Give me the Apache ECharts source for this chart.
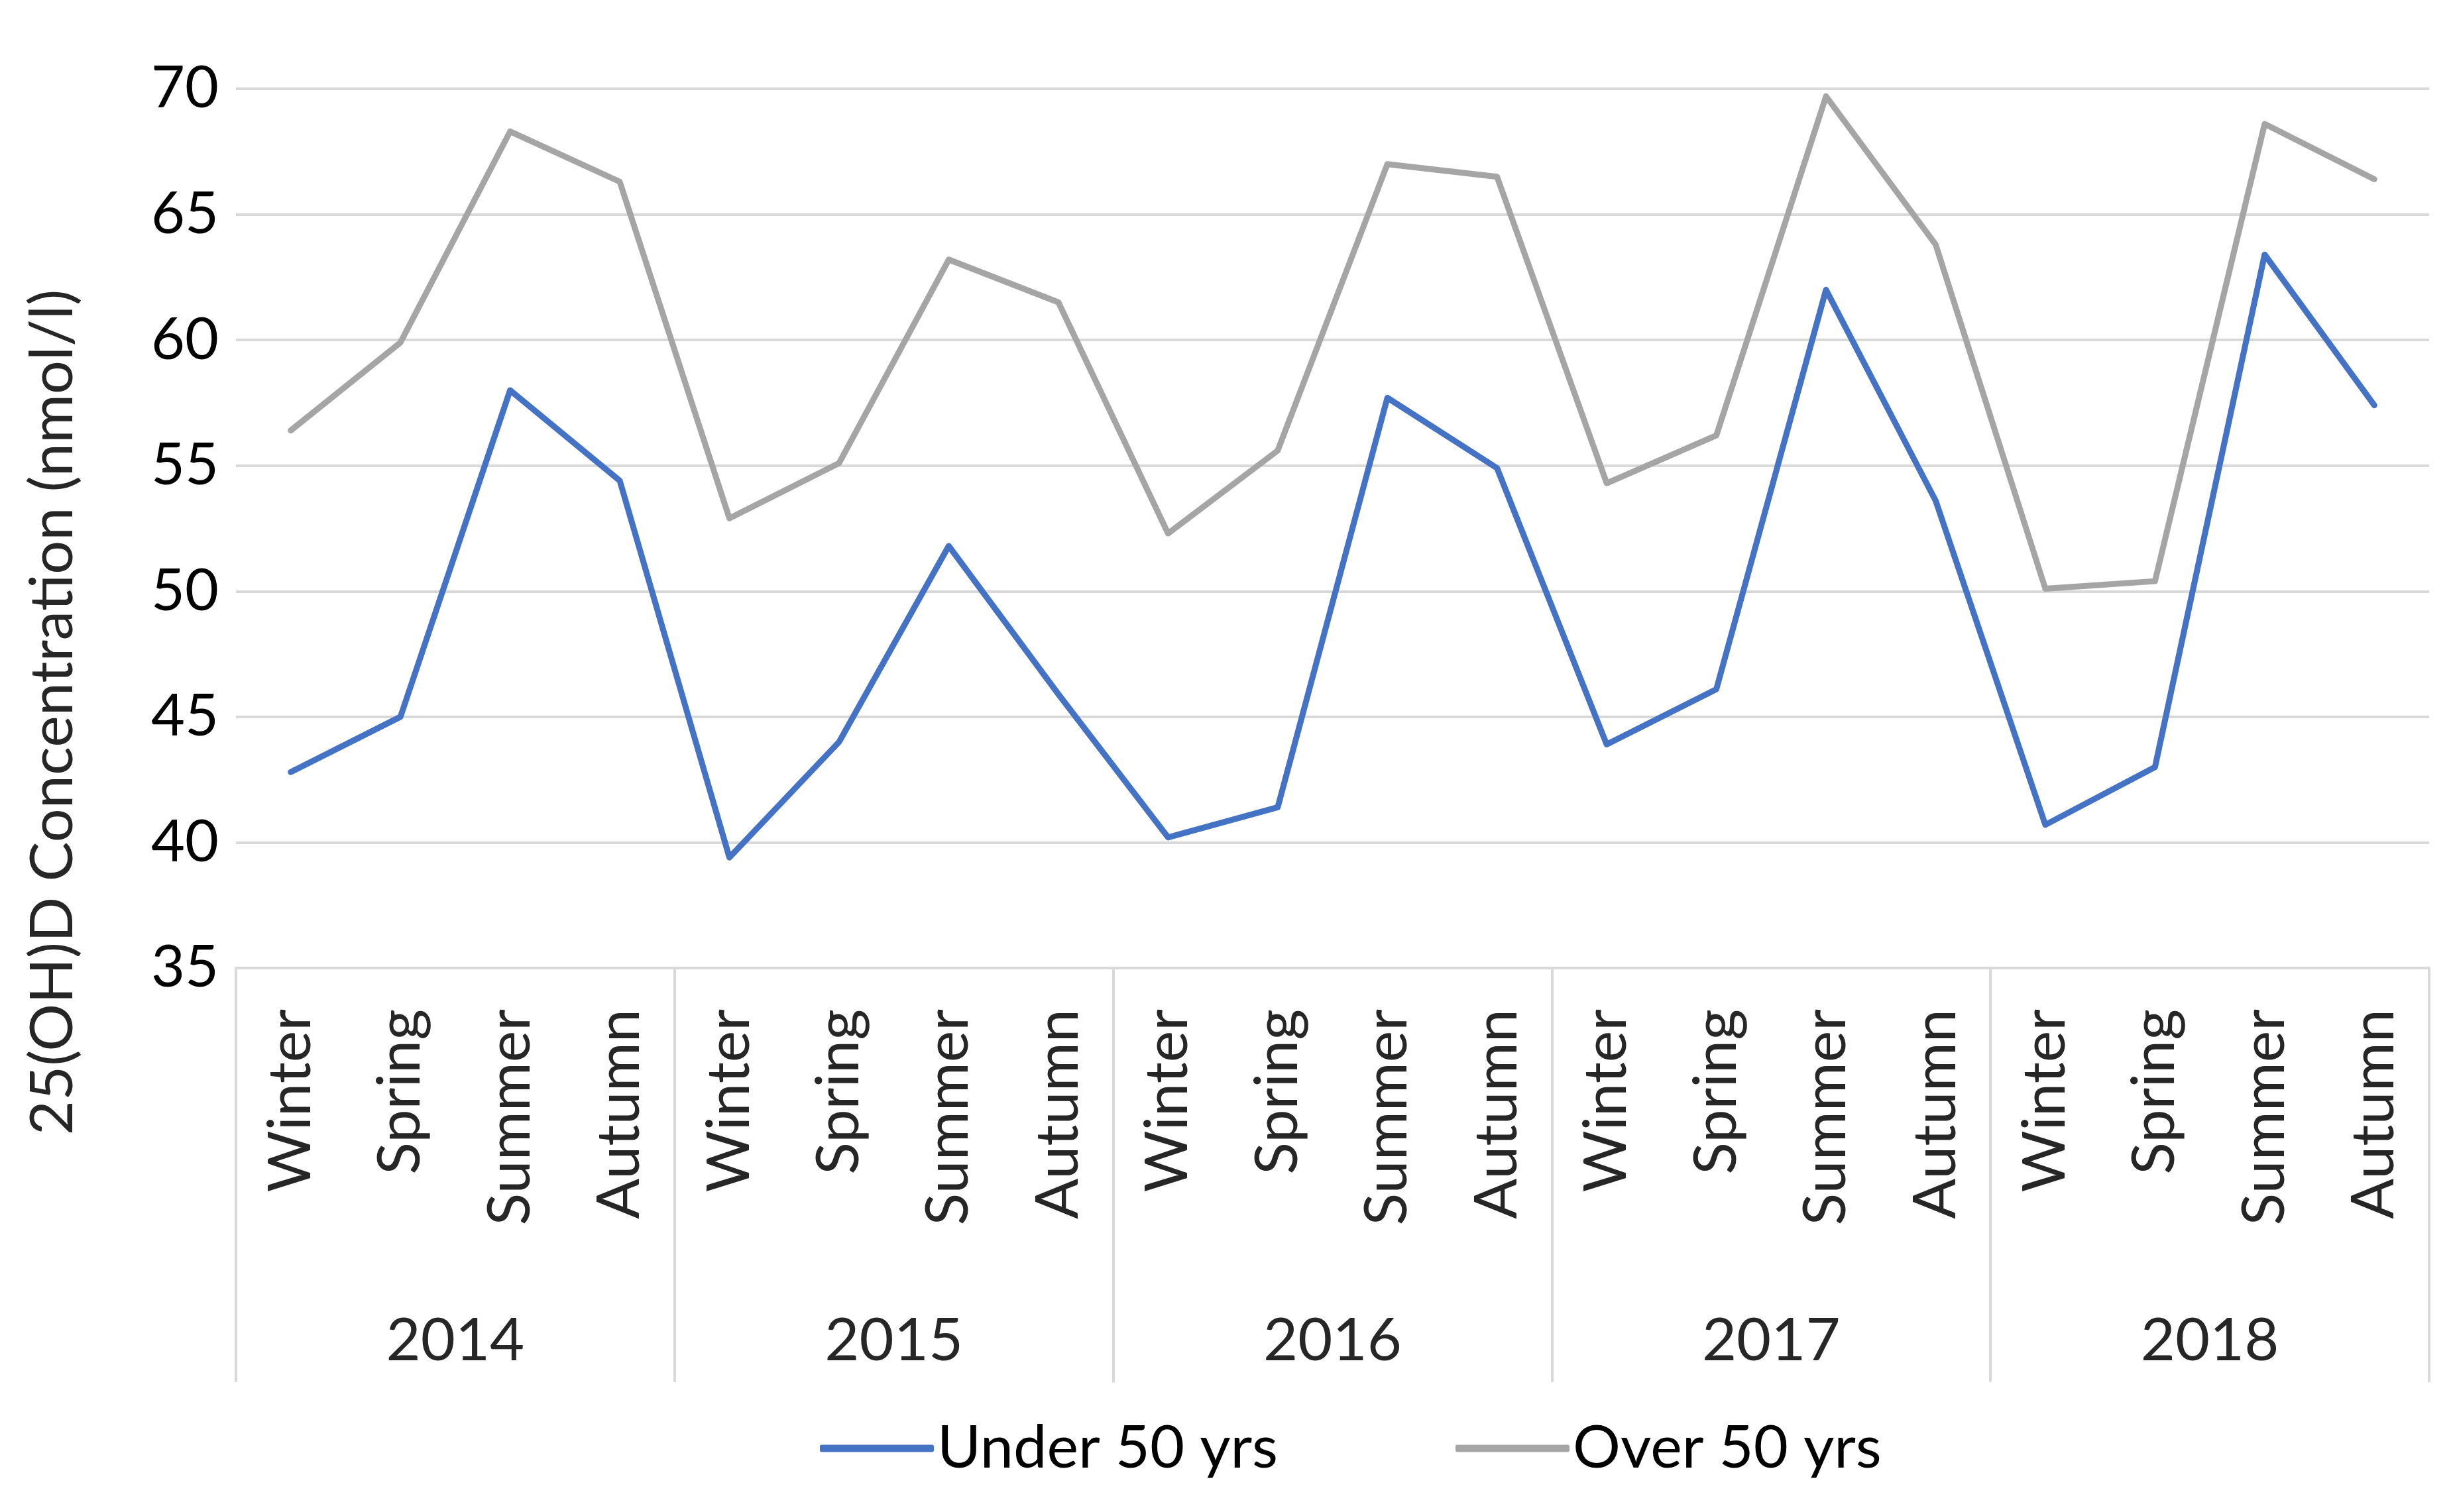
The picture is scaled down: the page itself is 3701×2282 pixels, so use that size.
<!DOCTYPE html>
<html>
<head>
<meta charset="utf-8">
<script src="https://cdn.jsdelivr.net/npm/echarts@6/dist/echarts.min.js"></script>
<style>
html,body{margin:0;padding:0;background:#fff;}
#chart{width:3701px;height:2282px;}
</style>
</head>
<body>
<div id="chart"></div>
<script>
const years = ['2014', '2015', '2016', '2017', '2018'];
const seasons = ['Winter', 'Spring', 'Summer', 'Autumn'];
const under50 = [42.8, 45.0, 58.0, 54.4, 39.4, 44.0, 51.8, 45.9, 40.2, 41.4, 57.7, 54.9, 43.9, 46.1, 62.0, 53.6, 40.7, 43.0, 63.4, 57.4];
const over50 = [56.4, 59.9, 68.3, 66.3, 52.9, 55.1, 63.2, 61.5, 52.3, 55.6, 67.0, 66.5, 54.3, 56.2, 69.7, 63.8, 50.1, 50.4, 68.6, 66.4];
const yTicks = { min: 35, max: 70, interval: 5 };
const seriesNames = ['Under 50 yrs', 'Over 50 yrs'];
const yTitle = '25(OH)D Concentration (nmol/l)';

const categories = [];
years.forEach(y => seasons.forEach(s => categories.push(y + ' ' + s)));

const FONT = 'Lato';
const chart = echarts.init(document.getElementById('chart'));
chart.setOption({
  animation: false,
  backgroundColor: '#fff',
  grid: { left: 356, right: 36, top: 134, bottom: 821, containLabel: false },
  legend: {
    left: 1232, top: 2136,
    itemWidth: 172, itemHeight: 11, itemGap: 268,
    icon: 'roundRect',
    data: seriesNames,
    textStyle: { fontFamily: FONT, fontSize: 90, color: '#000' }
  },
  xAxis: [
    {
      type: 'category', data: categories, boundaryGap: true, position: 'bottom',
      axisLine: { show: true, lineStyle: { color: '#D9D9D9', width: 4 } },
      axisTick: { show: false },
      axisLabel: {
        interval: 0, rotate: 90, margin: 62,
        fontFamily: FONT, fontSize: 90, color: '#262626',
        formatter: v => v.split(' ')[1]
      },
      splitLine: { show: false }
    },
    {
      type: 'category', data: years, boundaryGap: true, position: 'bottom',
      axisLine: { show: false },
      axisTick: { show: true, interval: 0, length: 625, lineStyle: { color: '#D9D9D9', width: 4 } },
      axisLabel: { interval: 0, margin: 518, fontFamily: FONT, fontSize: 90, color: '#262626' },
      splitLine: { show: false }
    }
  ],
  yAxis: {
    type: 'value', min: yTicks.min, max: yTicks.max, interval: yTicks.interval,
    axisLine: { show: false }, axisTick: { show: false },
    axisLabel: { margin: 26, fontFamily: FONT, fontSize: 88, color: '#000' },
    splitLine: { lineStyle: { color: '#D9D9D9', width: 4 } }
  },
  graphic: [{
    type: 'text', x: 80, y: 1075, rotation: Math.PI / 2,
    style: { text: yTitle, fontFamily: FONT, fontSize: 90, fill: '#262626', textAlign: 'center', textVerticalAlign: 'middle' }
  }],
  series: [
    { name: seriesNames[0], type: 'line', xAxisIndex: 0, data: under50, symbol: 'none',
      itemStyle: { color: '#4472C4' },
      lineStyle: { color: '#4472C4', width: 9, cap: 'round', join: 'round' } },
    { name: seriesNames[1], type: 'line', xAxisIndex: 0, data: over50, symbol: 'none',
      itemStyle: { color: '#A5A5A5' },
      lineStyle: { color: '#A5A5A5', width: 9, cap: 'round', join: 'round' } }
  ]
});
</script>
</body>
</html>
